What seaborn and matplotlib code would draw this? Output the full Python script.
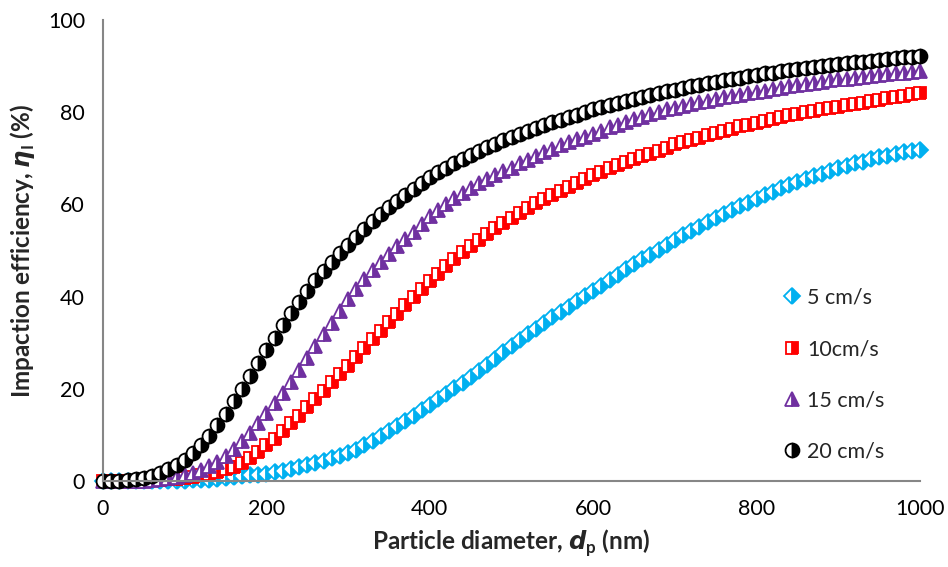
import matplotlib
matplotlib.use("Agg")
import matplotlib.pyplot as plt
import numpy as np
import pandas as pd
import seaborn as sns

# particle diameter (nm), one point every 10 nm
dp = list(range(0, 1001, 10))

# impaction efficiency (%)
eta_5 = [
    0.0, 0.0, 0.0, 0.0, 0.0, 0.0, 0.0, 0.0, 0.02, 0.05,
    0.1, 0.15, 0.2, 0.3, 0.45, 0.6, 0.8, 1.0, 1.2, 1.4,
    1.6, 1.9, 2.2, 2.6, 3.0, 3.4, 3.9, 4.4, 4.9, 5.4,
    6.0, 6.8, 7.7, 8.7, 9.7, 10.8, 11.9, 13.0, 14.1, 15.3,
    16.5, 17.7, 18.9, 20.1, 21.3, 22.6, 23.9, 25.2, 26.5, 27.9,
    29.3, 30.5, 31.8, 33.0, 34.3, 35.5, 36.7, 37.8, 39.0, 40.1,
    41.2, 42.4, 43.6, 44.7, 45.9, 47.0, 48.1, 49.1, 50.2, 51.2,
    52.3, 53.3, 54.3, 55.2, 56.2, 57.1, 57.9, 58.8, 59.6, 60.4,
    61.2, 62.0, 62.7, 63.5, 64.2, 64.9, 65.5, 66.1, 66.7, 67.3,
    67.9, 68.4, 68.9, 69.3, 69.8, 70.2, 70.6, 70.9, 71.3, 71.6,
    71.9,
]
eta_10 = [
    0.0, 0.0, 0.0, 0.0, 0.05, 0.1, 0.15, 0.25, 0.35, 0.5,
    0.7, 0.95, 1.25, 1.6, 2.0, 2.5, 3.1, 4.0, 5.0, 6.3,
    7.7, 9.2, 10.8, 12.5, 14.2, 16.0, 17.8, 19.6, 21.4, 23.2,
    25.0, 26.9, 28.8, 30.7, 32.6, 34.5, 36.3, 38.1, 39.9, 41.7,
    43.4, 45.0, 46.6, 48.1, 49.6, 51.0, 52.3, 53.6, 54.8, 56.0,
    57.1, 58.2, 59.2, 60.2, 61.2, 62.1, 63.0, 63.8, 64.6, 65.5,
    66.4, 67.1, 67.8, 68.5, 69.2, 69.8, 70.4, 71.0, 71.5, 72.3,
    73.0, 73.5, 74.0, 74.5, 75.0, 75.5, 76.0, 76.4, 76.9, 77.3,
    77.7, 78.1, 78.5, 78.9, 79.3, 79.6, 80.0, 80.3, 80.6, 80.9,
    81.2, 81.5, 81.8, 82.1, 82.4, 82.7, 83.0, 83.3, 83.6, 83.9,
    84.2,
]
eta_15 = [
    0.0, 0.0, 0.0, 0.02, 0.05, 0.1, 0.2, 0.35, 0.55, 0.8,
    1.2, 1.7, 2.4, 3.2, 4.2, 5.5, 7.0, 8.6, 10.4, 12.5,
    14.7, 16.9, 19.1, 21.5, 24.0, 26.6, 29.2, 31.8, 34.3, 36.8,
    39.4, 41.7, 43.8, 45.7, 47.6, 49.3, 50.9, 52.5, 54.1, 55.8,
    57.4, 58.8, 60.1, 61.3, 62.5, 63.6, 64.6, 65.5, 66.4, 67.2,
    68.0, 68.9, 69.7, 70.5, 71.3, 72.1, 72.8, 73.5, 74.1, 74.7,
    75.3, 76.0, 76.7, 77.3, 77.9, 78.5, 79.0, 79.6, 80.1, 80.6,
    81.0, 81.4, 81.8, 82.2, 82.5, 82.9, 83.2, 83.5, 83.8, 84.1,
    84.4, 84.7, 85.0, 85.3, 85.6, 85.9, 86.1, 86.4, 86.6, 86.9,
    87.1, 87.3, 87.5, 87.7, 87.9, 88.1, 88.2, 88.4, 88.6, 88.7,
    88.9,
]
eta_20 = [
    0.0, 0.0, 0.1, 0.2, 0.4, 0.7, 1.1, 1.7, 2.5, 3.5,
    4.6, 6.0, 7.8, 9.8, 12.1, 14.6, 17.3, 20.0, 22.8, 25.6,
    28.4, 31.1, 33.8, 36.4, 38.9, 41.3, 43.5, 45.6, 47.6, 49.4,
    51.2, 53.0, 54.7, 56.3, 57.9, 59.4, 60.8, 62.1, 63.4, 64.7,
    65.9, 67.0, 68.0, 69.0, 69.9, 70.8, 71.6, 72.4, 73.2, 73.9,
    74.6, 75.3, 75.9, 76.6, 77.2, 77.8, 78.4, 78.9, 79.5, 80.1,
    80.6, 81.1, 81.6, 82.0, 82.5, 82.9, 83.3, 83.7, 84.1, 84.5,
    84.9, 85.3, 85.6, 86.0, 86.3, 86.6, 86.9, 87.2, 87.5, 87.8,
    88.1, 88.4, 88.6, 88.9, 89.1, 89.4, 89.6, 89.8, 90.0, 90.3,
    90.5, 90.7, 90.9, 91.0, 91.2, 91.4, 91.6, 91.7, 91.9, 92.0,
    92.2,
]

labels = ["5 cm/s", "10cm/s", "15 cm/s", "20 cm/s"]

# style per series: (colour, marker, size)
STYLES = [
    ("#00B0F0", "D", 8.5),
    ("#FF0000", "s", 9.0),
    ("#7030A0", "^", 10.5),
    ("#000000", "o", 10.0),
]

sns.set_theme(style="white")
plt.rcParams["font.family"] = ["Lato", "DejaVu Sans"]
plt.rcParams["mathtext.fontset"] = "custom"
plt.rcParams["mathtext.rm"] = "Lato:bold"
plt.rcParams["mathtext.it"] = "DejaVu Sans:italic:bold"
plt.rcParams["mathtext.bf"] = "Lato:bold"

fig = plt.figure(figsize=(9.48, 5.67), dpi=100)
ax = fig.add_axes([0.1087, 0.1517, 0.8618, 0.813])

for values, label, (color, marker, size) in zip(
        [eta_5, eta_10, eta_15, eta_20], labels, STYLES):
    df = pd.DataFrame({"dp": dp, "eta": values})
    sns.lineplot(
        data=df, x="dp", y="eta", ax=ax,
        label=label,
        linestyle="none",
        marker=marker,
        markersize=size,
        fillstyle="right",
        markerfacecolor=color,
        markerfacecoloralt="white",
        markeredgecolor=color,
        markeredgewidth=1.3,
        color=color,
        clip_on=False,
        errorbar=None,
    )

ax.set_xlim(0, 1000)
ax.set_ylim(0, 100)
ax.set_xticks([0, 200, 400, 600, 800, 1000])
ax.set_yticks([0, 20, 40, 60, 80, 100])

ax.set_xlabel(r"Particle diameter, $d_\mathrm{p}$ (nm)",
              fontsize=17.5, fontweight="bold", labelpad=6)
ax.set_ylabel(r"Impaction efficiency, $\eta_\mathrm{I}$ (%)",
              fontsize=17.5, fontweight="bold", labelpad=8)

ax.tick_params(axis="both", which="major", labelsize=15.5, colors="black",
               length=5, width=1.2, direction="out", pad=8)
ax.tick_params(axis="both", color="#868686")

# only left and bottom axis lines, grey like the original
ax.spines[["top", "right"]].set_visible(False)
ax.spines[["left", "bottom"]].set_color("#868686")
ax.spines[["left", "bottom"]].set_linewidth(1.5)
ax.grid(False)

leg = ax.legend(loc="lower right", bbox_to_anchor=(0.98, 0.0),
                frameon=False, fontsize=15.5, handletextpad=0.1,
                labelspacing=1.45, handlelength=1.2)

plt.savefig("out.png", dpi=100)
plt.close()
